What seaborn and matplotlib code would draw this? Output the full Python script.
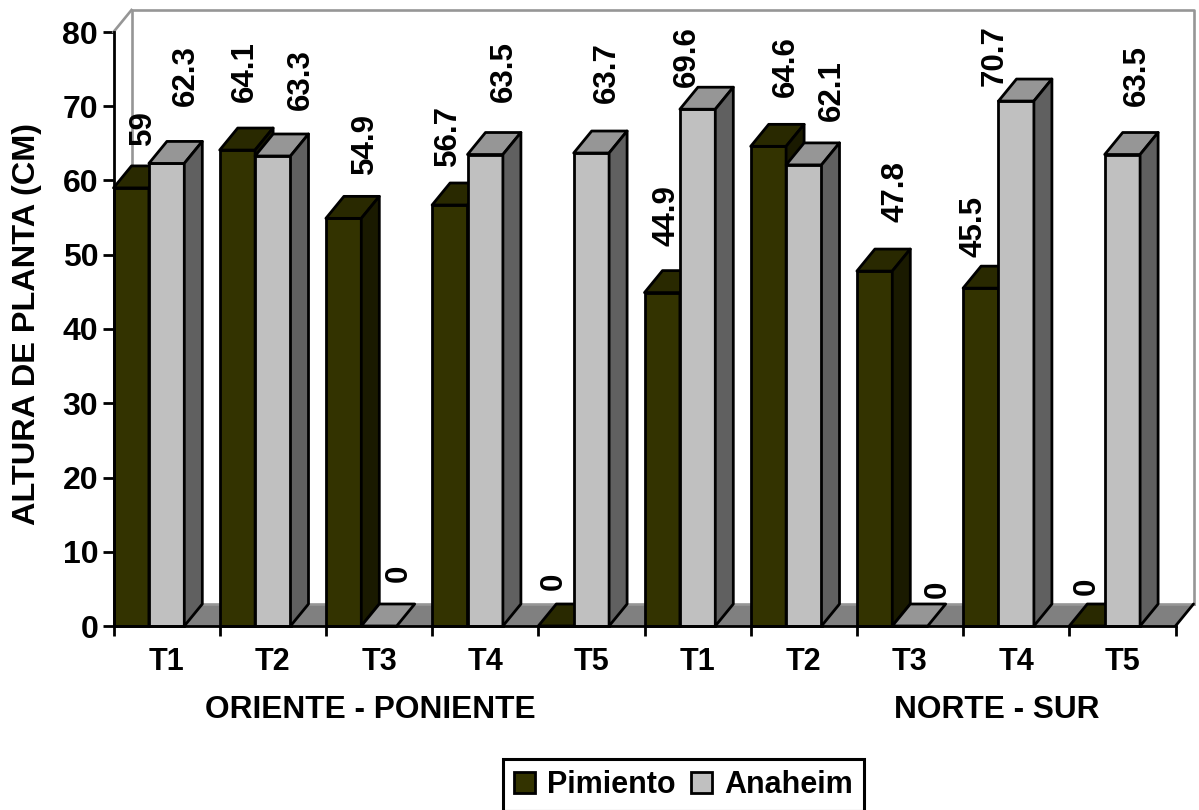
import matplotlib
matplotlib.use("Agg")
import matplotlib.pyplot as plt
from matplotlib.patches import Polygon
import pandas as pd
import seaborn as sns

tratamientos = ["T1", "T2", "T3", "T4", "T5", "T1", "T2", "T3", "T4", "T5"]
pimiento = [59, 64.1, 54.9, 56.7, 0, 44.9, 64.6, 47.8, 45.5, 0]
anaheim = [62.3, 63.3, 0, 63.5, 63.7, 69.6, 62.1, 0, 70.7, 63.5]
series = ["Pimiento", "Anaheim"]
orientaciones = ["ORIENTE - PONIENTE", "NORTE - SUR"]

# Hand placement of each value label relative to the top of its bar, in pixels.
nudge_pimiento = [(12, 60), (7.5, 78), (21, 75), (-2, 70), (-2, 45),
                  (4, 77), (17, 80), (21, 80), (-7, 62), (0, 40)]
nudge_anaheim = [(19, 88), (28, 76), (20, 53), (19, 83), (15, 80),
                 (-11, 53), (28, 74), (28, 37), (-22, 45), (14, 79)]

W, H = 1199, 810
LEFT, RIGHT, TOP, BOTTOM = 113.5, 1175.5, 32, 626
DEPTH_X, DEPTH_Y = 18, 22
EDGE = 2.0

sns.set_theme(style="white")
plt.rcParams["font.family"] = ["Liberation Sans", "DejaVu Sans"]
plt.rcParams["font.weight"] = "bold"

fig = plt.figure(figsize=(W / 100, H / 100), dpi=100, facecolor="white")
ax = fig.add_axes([LEFT / W, 1 - BOTTOM / H, (RIGHT - LEFT) / W, (BOTTOM - TOP) / H])
ax.patch.set_visible(False)

df = pd.DataFrame({
    "pos": list(range(10)) * 2,
    "altura": pimiento + anaheim,
    "serie": [series[0]] * 10 + [series[1]] * 10,
})
palette = {"Pimiento": "#333300", "Anaheim": "#c0c0c0"}
sns.barplot(data=df, x="pos", y="altura", hue="serie", hue_order=series, palette=palette,
            width=2 / 3, gap=0, dodge=True, edgecolor="black", linewidth=EDGE,
            saturation=1, ax=ax, zorder=3)
handles, labels = ax.get_legend_handles_labels()
ax.get_legend().remove()

ax.set_xlim(-1 / 3, 9 + 2 / 3)
ax.set_ylim(0, 80)
unit_x = (RIGHT - LEFT) / 10
unit_y = (BOTTOM - TOP) / 80
dx, dy = DEPTH_X / unit_x, DEPTH_Y / unit_y

# Floor and back wall of the pseudo-3D box.
x0, x1 = ax.get_xlim()
ax.add_patch(Polygon([(x0, 0), (x1, 0), (x1 + dx, dy), (x0 + dx, dy)], closed=True,
                     facecolor="#808080", edgecolor="none", clip_on=False, zorder=1))
wall = dict(color="#969696", lw=1.9, clip_on=False, zorder=1.5, solid_capstyle="projecting")
ax.plot([x0 + dx, x1 + dx], [dy, dy], **wall)
ax.plot([x0 + dx, x0 + dx, x1 + dx, x1 + dx], [dy, 80 + dy, 80 + dy, dy], **wall)
ax.plot([x0, x0 + dx], [80, 80 + dy], **wall)
ax.plot([x1, x1 + dx], [0, dy], color="black", lw=EDGE, clip_on=False, zorder=1.6)

# Top and side faces extruded from the bars seaborn drew, left to right.
shades = [("#292900", "#1a1a00"), ("#969696", "#606060")]
nudges = [nudge_pimiento, nudge_anaheim]
for s, container in enumerate(ax.containers):
    for i, bar in enumerate(container):
        left, w, h = bar.get_x(), bar.get_width(), bar.get_height()
        z = 3 + (2 * i + s) * 0.1
        bar.set_zorder(z)
        bar.set_clip_on(False)
        face = dict(closed=True, edgecolor="black", linewidth=EDGE, joinstyle="round",
                    clip_on=False, zorder=z)
        ax.add_patch(Polygon([(left, h), (left + w, h), (left + w + dx, h + dy), (left + dx, h + dy)],
                             facecolor=shades[s][0], **face))
        if h > 0:
            ax.add_patch(Polygon([(left + w, 0), (left + w + dx, dy), (left + w + dx, h + dy), (left + w, h)],
                                 facecolor=shades[s][1], **face))
        nx, ny = nudges[s][i]
        ax.annotate(f"{h:g}", xy=(left + w / 2, h), xytext=(nx, ny), textcoords="offset pixels",
                    rotation=90, ha="center", va="center", fontsize=22.5, fontweight="bold",
                    color="black", annotation_clip=False, zorder=20)

# Axes, ticks and text.
for side in ("top", "right"):
    ax.spines[side].set_visible(False)
for side in ("left", "bottom"):
    ax.spines[side].set_color("black")
    ax.spines[side].set_linewidth(EDGE)
    ax.spines[side].set_zorder(15)

ax.set_yticks(range(0, 81, 10))
ax.tick_params(axis="y", which="major", length=8, width=EDGE, color="black", left=True, pad=3,
               labelsize=23, labelcolor="black")
ax.set_xticks([i - 1 / 3 for i in range(11)], labels=[""] * 11)
ax.set_xticks([i + 1 / 6 for i in range(10)], labels=tratamientos, minor=True)
ax.tick_params(axis="x", which="major", length=7, width=EDGE, color="black", bottom=True)
ax.tick_params(axis="x", which="minor", length=0, pad=15, labelsize=22, labelcolor="black")
ax.set_xlabel("")
ax.set_ylabel("ALTURA DE PLANTA (CM)", fontsize=23.4, fontweight="bold", color="black", labelpad=0)
ax.yaxis.set_label_coords((42 - LEFT) / (RIGHT - LEFT), (BOTTOM - 324) / (BOTTOM - TOP))

for texto, cx in zip(orientaciones, (370, 997)):
    ax.text((cx - LEFT) / unit_x - 1 / 3, -(710 - BOTTOM) / (BOTTOM - TOP), texto,
            transform=ax.get_xaxis_transform(), ha="center", va="center",
            fontsize=22.8, fontweight="bold", color="black")

for handle in handles:
    handle.set_edgecolor("black")
    handle.set_linewidth(EDGE)
leg = fig.legend(handles, labels, loc="center", bbox_to_anchor=(683.5 / W, 1 - 785 / H), ncol=2,
                 frameon=True, fancybox=False, edgecolor="black", framealpha=1,
                 prop={"size": 22, "weight": "bold"}, handlelength=0.7, handleheight=0.7,
                 handletextpad=0.4, columnspacing=0.5, borderpad=0.36, borderaxespad=0)
leg.get_frame().set_linewidth(2.2)
for text in leg.get_texts():
    text.set_color("black")

fig.savefig("out.png", dpi=100, facecolor="white")
